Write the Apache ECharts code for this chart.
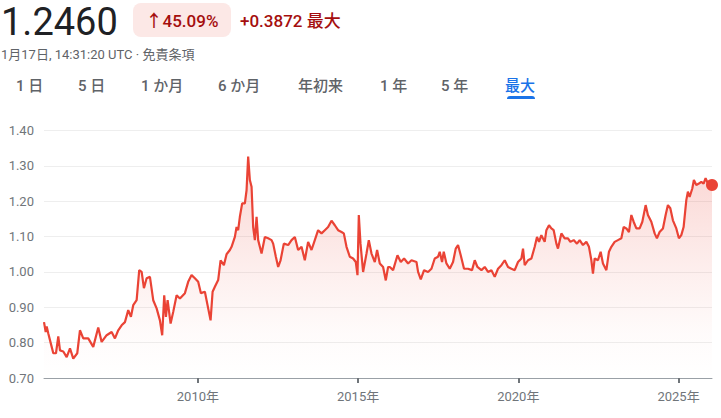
<!DOCTYPE html>
<html><head><meta charset="utf-8">
<script src="https://cdn.jsdelivr.net/npm/echarts@6/dist/echarts.min.js"></script>
<style>html,body{margin:0;padding:0;background:#fff}#c{width:721px;height:418px}</style>
</head><body><div id="c"></div>
<script>
// ---- data ----
const years = [
2005.197,2005.250,2005.281,2005.331,2005.437,2005.487,2005.571,2005.643,2005.696,2005.799,2005.905,
2006.008,2006.110,2006.235,2006.319,2006.422,2006.578,2006.734,2006.890,2006.996,
2007.152,2007.308,2007.411,2007.514,2007.620,2007.723,2007.826,2007.910,2007.982,
2008.088,2008.169,2008.244,2008.316,2008.400,2008.503,2008.606,2008.712,2008.815,2008.886,2008.949,
2009.002,2009.055,2009.148,2009.230,2009.336,2009.439,2009.595,2009.697,2009.803,2009.906,
2010.009,2010.094,2010.218,2010.321,2010.396,2010.459,2010.530,2010.633,2010.708,2010.811,2010.895,2010.998,
2011.051,2011.154,2011.207,2011.257,2011.310,2011.382,2011.466,2011.519,2011.569,2011.622,2011.675,2011.725,2011.778,2011.831,2011.881,2011.987,
2012.090,2012.193,2012.299,2012.349,2012.433,2012.505,2012.580,2012.682,2012.817,2012.923,
2013.026,2013.128,2013.235,2013.337,2013.440,2013.546,2013.649,2013.752,2013.858,2013.961,
2014.064,2014.170,2014.273,2014.376,2014.482,2014.554,2014.638,2014.741,2014.844,2014.928,2014.981,
2015.022,2015.075,2015.156,2015.262,2015.334,2015.418,2015.521,2015.593,2015.677,2015.780,2015.864,2015.936,2015.989,
2016.092,2016.229,2016.332,2016.435,2016.560,2016.666,2016.822,2016.872,2016.956,
2017.059,2017.183,2017.289,2017.392,2017.495,2017.548,2017.620,2017.673,2017.757,2017.860,2017.963,
2018.047,2018.119,2018.203,2018.306,2018.431,2018.556,2018.640,2018.724,2018.849,2018.952,
2019.055,2019.161,2019.264,2019.367,2019.473,2019.576,2019.679,2019.785,2019.888,2019.991,
2020.097,2020.147,2020.200,2020.303,2020.409,2020.512,2020.583,2020.646,2020.720,2020.823,2020.876,2020.958,
2021.032,2021.104,2021.188,2021.238,2021.344,2021.447,2021.550,2021.625,2021.728,2021.831,2021.915,
2022.018,2022.124,2022.205,2022.280,2022.330,2022.383,2022.486,2022.570,2022.642,2022.748,2022.829,2022.904,
2023.007,2023.110,2023.216,2023.288,2023.372,2023.453,2023.528,2023.599,2023.684,2023.787,2023.871,2023.974,
2024.045,2024.151,2024.255,2024.326,2024.410,2024.514,2024.598,2024.669,2024.744,2024.825,2024.931,
2025.012,2025.087,2025.159,2025.243,2025.293,2025.346,2025.430,2025.480,2025.555,2025.636,2025.711,2025.783,2025.845,2025.917,
2026.045
];
const rates = [
0.858,0.830,0.846,0.826,0.788,0.770,0.770,0.818,0.778,0.775,0.759,
0.784,0.755,0.770,0.835,0.812,0.812,0.788,0.843,0.802,
0.821,0.830,0.812,0.835,0.849,0.858,0.892,0.873,0.906,
0.920,1.005,1.000,0.954,0.982,0.986,0.920,0.897,0.863,0.821,0.934,
0.873,0.920,0.854,0.887,0.934,0.925,0.940,0.972,0.991,0.982,
0.972,0.940,0.944,0.897,0.863,0.944,0.958,0.977,1.033,1.019,1.050,1.062,
1.071,1.099,1.127,1.118,1.156,1.194,1.194,1.231,1.326,1.260,1.241,1.127,1.090,1.156,1.090,1.052,
1.099,1.095,1.090,1.080,1.043,1.014,1.033,1.080,1.076,1.090,
1.099,1.062,1.071,1.033,1.085,1.062,1.090,1.118,1.109,1.118,
1.127,1.145,1.132,1.118,1.113,1.109,1.071,1.043,1.038,1.028,0.991,
1.161,1.080,1.000,1.052,1.090,1.052,1.028,1.062,1.024,1.014,0.976,1.014,1.014,
1.005,1.047,1.028,1.038,1.024,1.033,1.028,1.000,0.979,
1.005,1.000,1.009,1.038,1.043,1.057,1.028,1.057,1.024,1.009,1.028,
1.066,1.076,1.047,1.009,1.009,1.005,1.033,1.014,1.005,1.014,
1.000,1.005,0.986,1.009,1.019,1.033,1.014,1.009,1.005,1.028,
1.038,1.066,1.019,1.033,1.038,1.071,1.099,1.085,1.104,1.085,1.118,1.132,
1.123,1.118,1.080,1.066,1.109,1.095,1.095,1.085,1.090,1.080,1.090,
1.076,1.085,1.071,1.033,0.995,1.038,1.033,1.057,1.024,1.005,1.057,1.071,
1.085,1.090,1.095,1.127,1.123,1.113,1.161,1.142,1.123,1.123,1.142,1.189,
1.161,1.142,1.109,1.095,1.113,1.123,1.161,1.189,1.180,1.146,1.123,
1.095,1.104,1.127,1.203,1.227,1.212,1.236,1.260,1.246,1.250,1.255,1.250,1.265,1.250,
1.246
];
const xTickYears = [2010, 2015, 2020, 2025];
const yMin = 0.7, yMax = 1.4, yStep = 0.1;
const price = '1.2460';
const pctChange = '45.09%';
const absChange = '+0.3872';
const rangeName = '最大';
const stamp = '1月17日, 14:31:20 UTC · 免責条項';
const tabs = ['1 日', '5 日', '1 か月', '6 か月', '年初来', '1 年', '5 年', '最大'];

// ---- layout ----
const FF = "Roboto, 'Noto Sans CJK JP', sans-serif";
const RED = '#ea4335';
const tabX = [16, 78, 141, 218, 298, 380, 441, 505];
const activeTab = 7;

const points = years.map((y, i) => [y, rates[i]]);
const last = points[points.length - 1];

const graphics = [
  { type: 'text', style: { text: price, x: 1, y: 22, font: '400 38px ' + FF, fill: '#202124', textVerticalAlign: 'middle' } },
  { type: 'rect', shape: { x: 133, y: 3, width: 98, height: 34, r: 8 }, style: { fill: '#fce8e6' } },
  { type: 'text', style: { text: '↑' + pctChange, x: 182, y: 21, font: '500 17px ' + FF, fill: '#a50e0e', textAlign: 'center', textVerticalAlign: 'middle' } },
  { type: 'text', style: { text: absChange + ' ' + rangeName, x: 240, y: 21, font: '500 17px ' + FF, fill: '#a50e0e', textVerticalAlign: 'middle' } },
  { type: 'text', style: { text: stamp, x: 1, y: 54, font: '400 13px ' + FF, fill: '#5f6368', textVerticalAlign: 'middle' } },
  { type: 'rect', shape: { x: 507, y: 96, width: 28, height: 3, r: [3, 3, 0, 0] }, style: { fill: '#1a73e8' } }
];
tabs.forEach((t, i) => {
  graphics.push({ type: 'text', style: { text: t, x: tabX[i], y: 86, font: '500 15px ' + FF, fill: i === activeTab ? '#1a73e8' : '#5f6368', textVerticalAlign: 'middle' } });
});

const chart = echarts.init(document.getElementById('c'), null, { renderer: 'svg' });
chart.setOption({
  animation: false,
  backgroundColor: '#fff',
  graphic: graphics,
  grid: { left: 44, right: 9, top: 130.5, bottom: 40, containLabel: false },
  xAxis: {
    type: 'value',
    min: years[0], max: years[years.length - 1],
    axisLine: { show: true, lineStyle: { color: '#9aa0a6', width: 1 } },
    axisTick: { show: true, customValues: xTickYears, length: 5, lineStyle: { color: '#70757a', width: 2 } },
    axisLabel: { customValues: xTickYears, formatter: v => v + '年', color: '#70757a', fontSize: 13, fontFamily: FF, margin: 12 },
    splitLine: { show: false }
  },
  yAxis: {
    type: 'value', min: yMin, max: yMax, interval: yStep,
    axisLine: { show: false }, axisTick: { show: false },
    axisLabel: { formatter: v => v.toFixed(2), color: '#70757a', fontSize: 13, fontFamily: FF, margin: 10 },
    splitLine: { show: true, lineStyle: { color: '#eeeeee', width: 1 } }
  },
  series: [
    {
      type: 'line', data: points, showSymbol: false, smooth: false,
      lineStyle: { color: RED, width: 2.2 },
      areaStyle: {
        origin: 'start',
        color: new echarts.graphic.LinearGradient(0, 0, 0, 1, [
          { offset: 0, color: 'rgba(234,67,53,0.32)' },
          { offset: 0.5, color: 'rgba(234,67,53,0.13)' },
          { offset: 0.8, color: 'rgba(234,67,53,0.03)' },
          { offset: 1, color: 'rgba(234,67,53,0)' }
        ])
      }
    },
    {
      type: 'scatter', data: [last], symbol: 'circle', symbolSize: 12, clip: false,
      itemStyle: { color: RED, opacity: 1 }, z: 5
    }
  ]
});
</script>
</body></html>
